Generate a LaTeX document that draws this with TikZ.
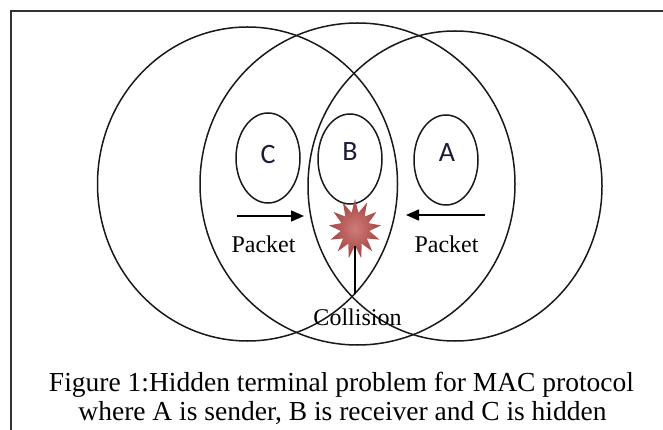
\documentclass[tikz,border=0pt]{standalone}
\usepackage{fontspec}
\setmainfont{Liberation Serif}
\newfontfamily\lettfont{Carlito}
\usetikzlibrary{shapes.geometric,arrows.meta}
\definecolor{burstred}{RGB}{192,80,77}
\definecolor{lettblue}{RGB}{28,28,58}
\tikzset{
  cover/.style={line width=1.5pt, color=black!90},
  station/.style={ellipse, draw, line width=1.5pt, color=black!90, minimum width=64pt, minimum height=90pt, inner sep=0pt},
  lett/.style={text=lettblue, font=\lettfont\fontsize{28}{32}\selectfont},
  packet/.style={-{Triangle[length=13pt,width=11pt]}, line width=1.6pt},
  lbl/.style={font=\fontsize{24}{28}\selectfont, anchor=base},
}

\begin{document}
\begin{tikzpicture}[x=1pt, y=-1pt]
			%%%%% START %%%%%
			\useasboundingbox (0, 0) rectangle (663, 430);
			
			\draw[line width=2.4pt, color=black!80] (11, 430) -- (11, 11) -- (663, 11);
			
			% the three ranges
			\draw[cover] (247.5, 184) ellipse (150 and 157);
			\draw[cover] (357.5, 184) ellipse (157.5 and 161);
			\draw[cover] (455, 186) ellipse (147 and 155);
			
			% stations
			\node[station] (C) at (268, 158) {};
			\node[lett] at (268, 155) {C};
			\node[station] (B) at (350, 159) {};
			\node[lett] at (350, 152) {B};
			\node[station] (A) at (446, 160) {};
			\node[lett] at (447, 153) {A};
			
			% packets
			\coordinate (cfrom) at (237, 216);
			\coordinate (cto) at (304, 216);
			\draw[packet] (cfrom) -- (cto);
			\coordinate (afrom) at (485, 215);
			\coordinate (ato) at (406, 215);
			\draw[packet] (afrom) -- (ato);
			\node[lbl] (pc) at (263.5, 252) {Packet};
			\node[lbl] (pa) at (446.5, 252) {Packet};
			
			% collision
			\node[star, star points=13, star point ratio=1.8, minimum size=52pt, inner sep=0pt, shading=radial, inner color=burstred!75!white, outer color=burstred!85!black, yscale=1.15] (burst) at (355, 229) {};
			\coordinate (tip) at (355, 294);
			\draw[line width=1.5pt] (burst.south) -- (tip);
			\node[lbl] (coll) at (357.5, 325) {Collision};
			
			% caption
			\node[anchor=base, font=\fontsize{27.5}{30}\selectfont] (cap1) at (341.5, 391) {Figure 1:Hidden terminal problem for MAC protocol};
			\node[anchor=base, font=\fontsize{27.5}{30}\selectfont] (cap2) at (342.5, 420) {where A is sender, B is receiver and C is hidden};
			
			%%%%% END %%%%%
		\end{tikzpicture}
\end{document}
